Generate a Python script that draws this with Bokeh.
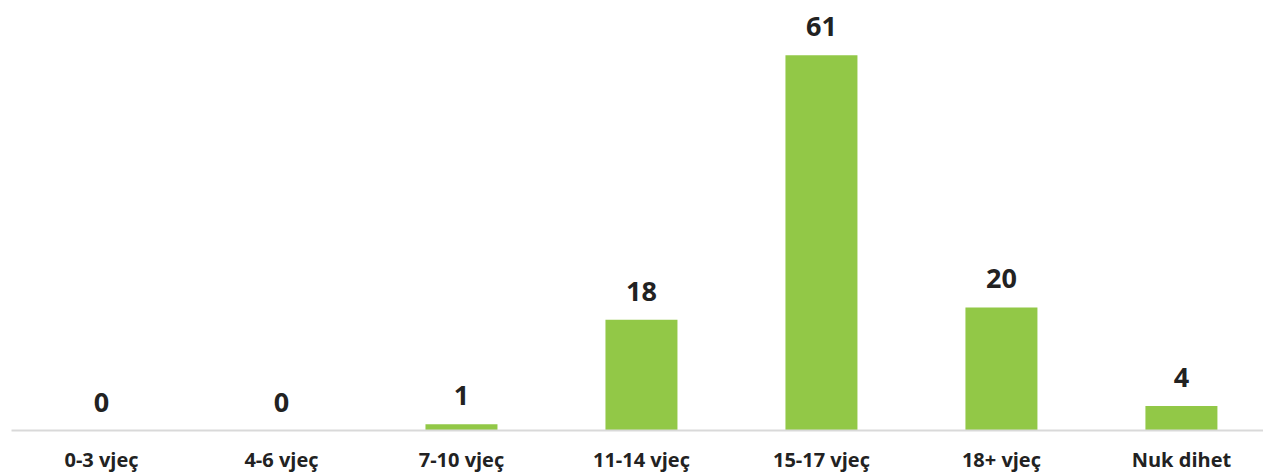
from bokeh.plotting import figure
from bokeh.models import ColumnDataSource, Range1d, FixedTicker
from bokeh.core.properties import value
from bokeh.embed import file_html
from bokeh.resources import INLINE

categories = ["0-3 vjeç", "4-6 vjeç", "7-10 vjeç", "11-14 vjeç", "15-17 vjeç", "18+ vjeç", "Nuk dihet"]
counts = [0, 0, 1, 18, 61, 20, 4]

xs = list(range(len(categories)))
src = ColumnDataSource(dict(x=xs, top=counts, label=[str(c) for c in counts]))

p = figure(width=1263, height=475, output_backend="svg", toolbar_location=None,
           x_range=Range1d(-0.5, 6.456), y_range=Range1d(0, 69.9),
           min_border_left=11, min_border_right=0, min_border_top=0, min_border_bottom=0)
p.vbar(x="x", top="top", width=0.4, source=src, color="#92C847", line_color=None)
p.text(x="x", y="top", text="label", source=src, text_align="center", text_baseline="bottom",
       y_offset=-19, text_font=value("Open Sans"), text_font_style="bold",
       text_font_size="27px", text_color="#222222")

p.yaxis.visible = False
p.grid.visible = False
p.outline_line_color = None
p.xaxis.ticker = FixedTicker(ticks=xs)
p.xaxis.major_label_overrides = {i: c for i, c in enumerate(categories)}
p.xaxis.major_tick_line_color = None
p.xaxis.minor_tick_line_color = None
p.xaxis.major_tick_out = 0
p.xaxis.major_tick_in = 0
p.xaxis.axis_line_color = "#D9D9D9"
p.xaxis.axis_line_width = 2
p.xaxis.major_label_text_font = "Open Sans"
p.xaxis.major_label_text_font_style = "bold"
p.xaxis.major_label_text_font_size = "20px"
p.xaxis.major_label_text_line_height = 0.8
p.xaxis.major_label_text_color = "#222222"
p.xaxis.major_label_standoff = 15

open("out.html", "w").write(file_html(p, INLINE))
